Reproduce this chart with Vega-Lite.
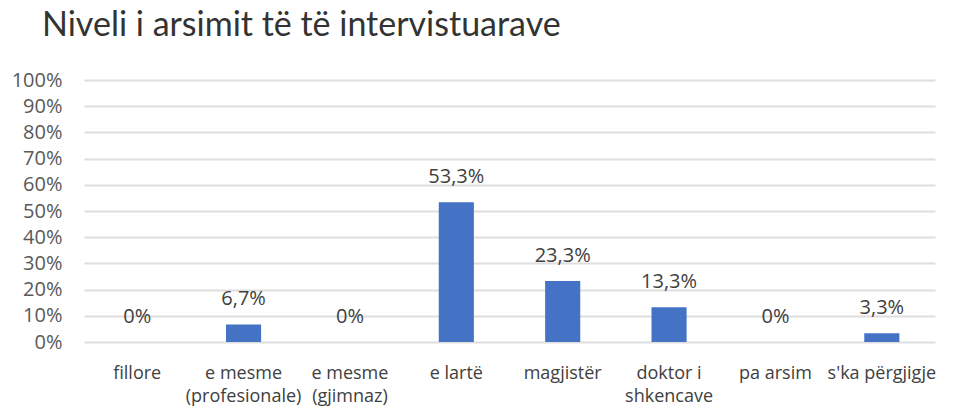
{
  "$schema": "https://vega.github.io/schema/vega-lite/v6.json",
  "width": 851,
  "height": 262,
  "autosize": {"type": "none"},
  "padding": {"left": 84, "top": 80, "right": 30, "bottom": 66},
  "title": {
    "text": "Niveli i arsimit të të intervistuarave",
    "anchor": "start",
    "frame": "group",
    "dx": -42,
    "offset": 27,
    "fontSize": 34,
    "font": "Lato",
    "fontWeight": "normal",
    "color": "#333333"
  },
  "config": {
    "locale": {"number": {"decimal": ",", "thousands": ".", "grouping": [3], "currency": ["", " €"]}},
    "view": {"stroke": null},
    "font": "Open Sans"
  },
  "data": {
    "values": [
      {"level": "fillore", "share": 0},
      {"level": "e mesme (profesionale)", "share": 0.067},
      {"level": "e mesme (gjimnaz)", "share": 0},
      {"level": "e lartë", "share": 0.533},
      {"level": "magjistër", "share": 0.233},
      {"level": "doktor i shkencave", "share": 0.133},
      {"level": "pa arsim", "share": 0},
      {"level": "s'ka përgjigje", "share": 0.033}
    ]
  },
  "encoding": {
    "x": {
      "field": "level",
      "type": "nominal",
      "sort": null,
      "scale": {"paddingInner": 0.67, "paddingOuter": 0.335},
      "axis": {
        "title": null,
        "labelAngle": 0,
        "domain": false,
        "ticks": false,
        "labelPadding": 36,
        "labelFontSize": 18,
        "labelColor": "#404040",
        "labelFont": "Open Sans",
        "labelBaseline": "alphabetic",
        "labelLimit": 200,
        "labelLineHeight": 23,
        "labelExpr": "split(replace(replace(datum.value, ' (', '|('), 'i shk', 'i|shk'), '|')"
      }
    },
    "y": {
      "field": "share",
      "type": "quantitative",
      "scale": {"domain": [0, 1]},
      "axis": {
        "title": null,
        "values": [0, 0.1, 0.2, 0.3, 0.4, 0.5, 0.6, 0.7, 0.8, 0.9, 1],
        "format": ".0%",
        "domain": false,
        "ticks": false,
        "labelPadding": 22,
        "labelFontSize": 20,
        "labelColor": "#595959",
        "labelFont": "Open Sans",
        "gridColor": "#dedede",
        "gridWidth": 2
      }
    }
  },
  "layer": [
    {"mark": {"type": "bar", "color": "#4472C4"}},
    {
      "mark": {"type": "text", "baseline": "alphabetic", "dy": -19, "fontSize": 20, "color": "#404040", "font": "Open Sans"},
      "encoding": {"text": {"field": "share", "type": "quantitative", "format": ".1~%"}}
    }
  ]
}
